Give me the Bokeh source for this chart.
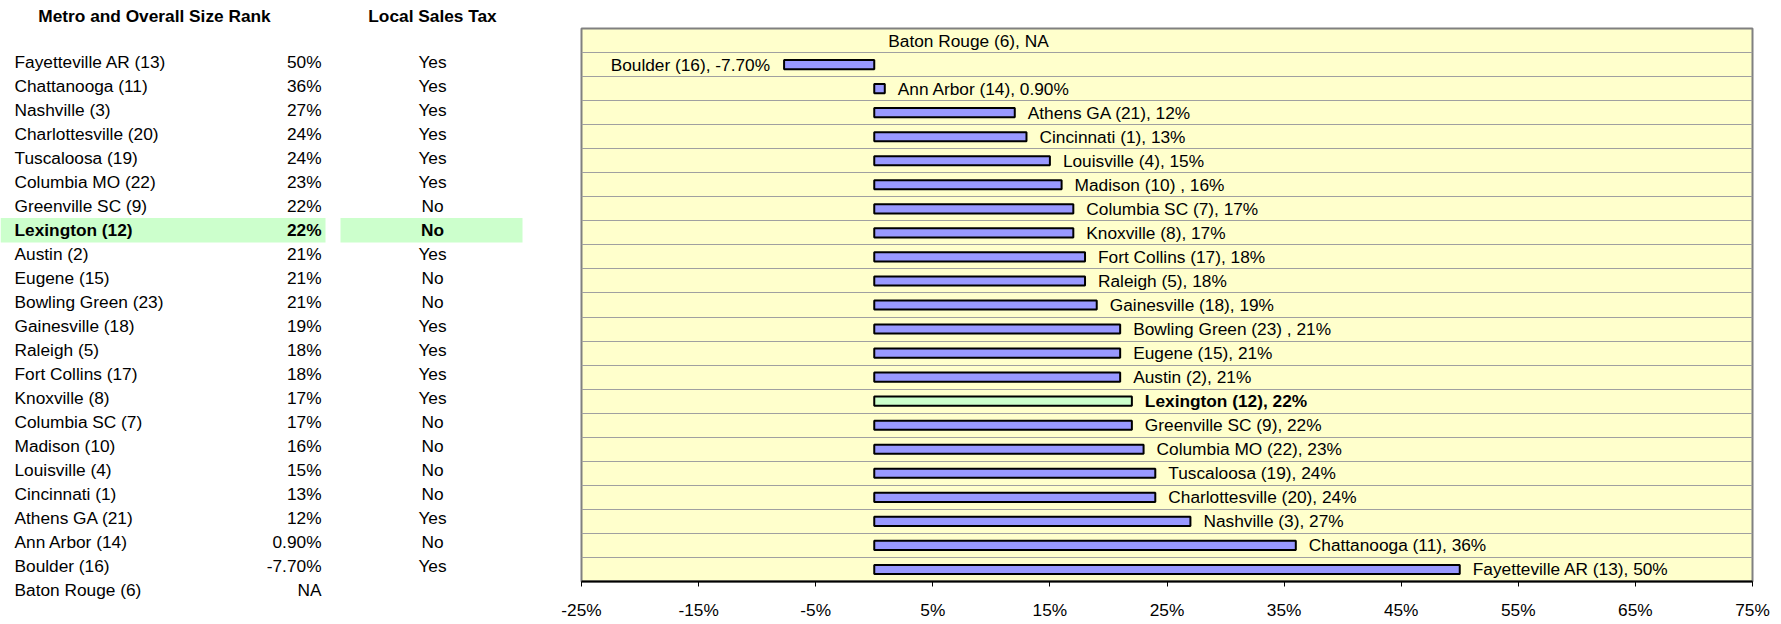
from bokeh.plotting import figure
from bokeh.layouts import row
from bokeh.models import ColumnDataSource, Range1d, FixedTicker, PrintfTickFormatter
from bokeh.core.properties import value
from bokeh.embed import file_html
from bokeh.resources import INLINE

# ---------------- data ----------------
cities = ["Fayetteville AR (13)", "Chattanooga (11)", "Nashville (3)", "Charlottesville (20)",
          "Tuscaloosa (19)", "Columbia MO (22)", "Greenville SC (9)", "Lexington (12)",
          "Austin (2)", "Eugene (15)", "Bowling Green (23) ", "Gainesville (18)", "Raleigh (5)",
          "Fort Collins (17)", "Knoxville (8)", "Columbia SC (7)", "Madison (10) ",
          "Louisville (4)", "Cincinnati (1)", "Athens GA (21)", "Ann Arbor (14)",
          "Boulder (16)", "Baton Rouge (6)"]
growth = [50, 36, 27, 24, 24, 23, 22, 22, 21, 21, 21, 19, 18, 18, 17, 17, 16, 15, 13, 12,
          0.9, -7.7, None]
sales_tax = ["Yes", "Yes", "Yes", "Yes", "Yes", "Yes", "No", "No", "Yes", "No", "No", "Yes",
             "Yes", "Yes", "Yes", "No", "No", "No", "No", "Yes", "No", "Yes", ""]
highlight = "Lexington (12)"
x_ticks = [-25, -15, -5, 5, 15, 25, 35, 45, 55, 65, 75]
headers = ["Metro and Overall Size Rank", "Local Sales Tax"]

# ---------------- styling ----------------
FONT = value("Liberation Sans")
FS = "17.3px"
BAR_BLUE = "#9999FF"
HL_GREEN = "#CCFFCC"
BG_YELLOW = "#FFFFCC"


def fmt(v):
    if v is None:
        return "NA"
    if float(v).is_integer():
        return f"{int(v)}%"
    return f"{v:.2f}%"


pct = [fmt(v) for v in growth]
n = len(cities)
hl = cities.index(highlight)

# ---------------- table (left) ----------------
TW, H = 530, 624
t = figure(width=TW, height=H, x_range=Range1d(0, TW), y_range=Range1d(H, 0),
           output_backend="svg", toolbar_location=None, min_border=0,
           x_axis_location=None, y_axis_location=None)
t.frame_align = False
t.grid.visible = False
t.outline_line_color = None
t.background_fill_color = "white"
t.border_fill_color = "white"

row0, row_h = 61.7, 24.0
ys = [row0 + i * row_h for i in range(n)]
hy = ys[hl]
t.quad(left=[0, 340], right=[325, 522], top=[hy - 12.3] * 2, bottom=[hy + 12.3] * 2,
       fill_color=HL_GREEN, line_color=None)

t.text(x=[154, 432], y=[15.7, 15.7], text=headers, text_font=FONT, text_font_size=FS,
       text_font_style="bold", text_align="center", text_baseline="middle", text_color="black")

norm = [i for i in range(n) if i != hl]
src_t = ColumnDataSource(dict(y=[ys[i] for i in norm], name=[cities[i] for i in norm],
                              pct=[pct[i] for i in norm], tax=[sales_tax[i] for i in norm]))
t.text(x=14, y="y", text="name", source=src_t, text_font=FONT, text_font_size=FS,
       text_align="left", text_baseline="middle", text_color="black")
t.text(x=321, y="y", text="pct", source=src_t, text_font=FONT, text_font_size=FS,
       text_align="right", text_baseline="middle", text_color="black")
t.text(x=432, y="y", text="tax", source=src_t, text_font=FONT, text_font_size=FS,
       text_align="center", text_baseline="middle", text_color="black")
for xx, txt, al in [(14, cities[hl], "left"), (321, pct[hl], "right"), (432, sales_tax[hl], "center")]:
    t.text(x=[xx], y=[hy], text=[txt], text_font=FONT, text_font_size=FS, text_font_style="bold",
           text_align=al, text_baseline="middle", text_color="black")

# ---------------- chart (right) ----------------
CW = 1781 - TW
p = figure(width=CW, height=H, x_range=Range1d(-25, 75), y_range=Range1d(-0.5, n - 0.5),
           output_backend="svg", toolbar_location=None, y_axis_location=None,
           min_border_left=51, min_border_right=29, min_border_top=28, min_border_bottom=43)
p.frame_align = False
p.background_fill_color = BG_YELLOW
p.border_fill_color = "white"
p.outline_line_color = "#808080"
p.outline_line_width = 2
p.xgrid.visible = False
p.ygrid.ticker = FixedTicker(ticks=[i + 0.5 for i in range(n - 1)])
p.ygrid.grid_line_color = "#A0A0A0"
p.ygrid.grid_line_width = 1

ax = p.xaxis[0]
ax.ticker = FixedTicker(ticks=x_ticks)
ax.formatter = PrintfTickFormatter(format="%d%%")
ax.axis_line_color = "black"
ax.axis_line_width = 2
ax.major_tick_in = 0
ax.major_tick_out = 5
ax.major_tick_line_color = "black"
ax.minor_tick_line_color = None
ax.major_label_text_font = "Liberation Sans"
ax.major_label_text_font_size = FS
ax.major_label_text_color = "black"
ax.major_label_standoff = 13

valid = [i for i in range(n) if growth[i] is not None]
bars = ColumnDataSource(dict(
    y=valid, v=[growth[i] for i in valid],
    color=[HL_GREEN if i == hl else BAR_BLUE for i in valid]))
p.hbar(y="y", left=0, right="v", height=0.38, fill_color="color", line_color="black",
       line_width=2, source=bars)

lab = [f"{cities[i]}, {pct[i]}" for i in range(n)]
pos = [i for i in valid if growth[i] >= 0 and i != hl]
neg = [i for i in valid if growth[i] < 0]
na = [i for i in range(n) if growth[i] is None]

p.text(x=[growth[i] for i in pos], y=pos, text=[lab[i] for i in pos], x_offset=13,
       text_font=FONT, text_font_size=FS, text_align="left", text_baseline="middle",
       text_color="black")
p.text(x=[growth[hl]], y=[hl], text=[lab[hl]], x_offset=13, text_font=FONT,
       text_font_size=FS, text_font_style="bold", text_align="left", text_baseline="middle",
       text_color="black")
p.text(x=[growth[i] for i in neg], y=neg, text=[lab[i] for i in neg], x_offset=-14,
       text_font=FONT, text_font_size=FS, text_align="right", text_baseline="middle",
       text_color="black")
p.text(x=[0 for i in na], y=na, text=[lab[i] for i in na], x_offset=14,
       text_font=FONT, text_font_size=FS, text_align="left", text_baseline="middle",
       text_color="black")

layout = row(t, p, spacing=0)
open("out.html", "w").write(file_html(layout, INLINE))
